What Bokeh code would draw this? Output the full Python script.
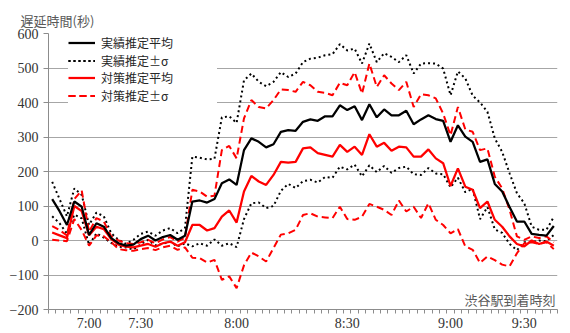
from bokeh.plotting import figure
from bokeh.models import Range1d, FixedTicker, Label, Legend, LegendItem, Title
from bokeh.embed import file_html
from bokeh.resources import INLINE

# --- data ---
tick_index = [5, 12, 25, 40, 54, 64]
tick_labels = ["7:00", "7:30", "8:00", "8:30", "9:00", "9:30"]

actual_mean = [120, 85, 45, 113, 98, 16, 50, 40, 7, -8,
               -15, -12, 4, 14, 0, 10, 16, 2, 14, 113,
               116, 110, 120, 166, 177, 161, 262, 296, 286, 270,
               279, 315, 320, 318, 344, 351, 347, 360, 360, 392,
               378, 389, 349, 395, 357, 380, 363, 363, 376, 337,
               351, 363, 352, 347, 286, 334, 301, 286, 228, 235,
               164, 142, 97, 55, 55, 19, 16, 14, 42]
actual_upper = [170, 120, 70, 151, 132, 45, 81, 70, 21, 2,
                -10, 2, 19, 26, 14, 29, 36, 21, 36, 243,
                240, 235, 237, 357, 360, 341, 464, 484, 460, 447,
                460, 488, 474, 484, 517, 527, 530, 537, 540, 569,
                551, 556, 513, 571, 517, 543, 532, 517, 537, 484,
                513, 514, 513, 498, 421, 490, 470, 420, 400, 373,
                296, 257, 195, 137, 108, 40, 31, 31, 68]
actual_lower = [70, 50, 20, 75, 64, -13, 21, 8, -7, -18,
                -20, -26, -11, 2, -14, -9, -4, -17, -8, -17,
                -8, -15, 3, -15, -8, -19, 62, 108, 110, 94,
                100, 144, 164, 152, 172, 176, 168, 184, 182, 214,
                206, 220, 186, 218, 198, 216, 196, 210, 214, 192,
                190, 210, 194, 192, 154, 182, 140, 150, 62, 97,
                32, 22, -10, -28, -5, -5, 0, -2, 16]
plan_mean = [23, 15, 7, 100, 85, 15, 40, 33, 4, -12,
             -18, -20, -15, -10, -18, -8, -3, -15, -5, 45,
             45, 29, 36, 69, 87, 52, 142, 187, 171, 161,
             190, 228, 226, 228, 267, 270, 253, 248, 243, 277,
             257, 272, 248, 308, 272, 283, 260, 272, 270, 243,
             243, 264, 238, 224, 158, 209, 156, 147, 94, 113,
             60, 40, 12, -10, -17, 0, -10, -3, -15]
plan_upper = [42, 30, 15, 120, 145, 25, 65, 55, 12, 0,
              -8, -10, -5, 2, -8, 3, 10, -3, 8, 147,
              142, 127, 130, 262, 274, 238, 354, 407, 387, 383,
              407, 438, 436, 431, 460, 450, 431, 428, 421, 457,
              450, 488, 426, 513, 445, 479, 455, 436, 460, 387,
              424, 421, 412, 368, 305, 387, 322, 315, 262, 267,
              185, 151, 89, 12, 2, 12, 7, 12, -5]
plan_lower = [2, 0, -2, 62, 30, -15, 15, 12, -5, -25,
              -28, -30, -25, -22, -28, -20, -15, -27, -20, -50,
              -51, -64, -56, -114, -104, -138, -72, -35, -46, -61,
              -22, 17, 21, 31, 74, 79, 69, 67, 65, 98,
              62, 60, 69, 106, 98, 89, 74, 116, 84, 98,
              65, 108, 60, 45, 21, 33, -17, -27, -65, -46,
              -57, -70, -75, -37, -8, -5, -10, -5, -25]

series_names = ["実績推定平均", "実績推定±σ", "対策推定平均", "対策推定±σ"]
y_title = "遅延時間(秒)"
x_title = "渋谷駅到着時刻"

n = len(actual_mean)
x = list(range(n))

p = figure(width=570, height=333, output_backend="svg", toolbar_location=None,
           x_range=Range1d(-0.5, n - 0.5), y_range=Range1d(-200, 600),
           min_border_left=48, min_border_right=13, min_border_top=33,
           min_border_bottom=23)
p.outline_line_color = None
p.background_fill_color = "white"
p.border_fill_color = "white"
p.xgrid.visible = False
p.ygrid.grid_line_color = "#a6a6a6"
p.ygrid.grid_line_width = 1

AX = "#8c8c8c"
p.yaxis.ticker = FixedTicker(ticks=list(range(-200, 601, 100)))
p.yaxis.axis_line_color = AX
p.yaxis.major_tick_line_color = AX
p.yaxis.major_tick_out = 5
p.yaxis.major_tick_in = 0
p.yaxis.minor_tick_line_color = None
p.yaxis.major_label_text_font = "Liberation Serif"
p.yaxis.major_label_text_font_size = "14px"
p.yaxis.major_label_text_color = "#333333"
p.yaxis.major_label_standoff = 5

p.xaxis.ticker = FixedTicker(ticks=tick_index, minor_ticks=[k - 0.5 for k in range(n + 1)])
p.xaxis.major_label_overrides = {i: t for i, t in zip(tick_index, tick_labels)}
p.xaxis.axis_line_color = AX
p.xaxis.major_tick_line_color = None
p.xaxis.major_tick_out = 0
p.xaxis.major_tick_in = 0
p.xaxis.minor_tick_line_color = AX
p.xaxis.minor_tick_out = 4
p.xaxis.minor_tick_in = 0
p.xaxis.major_label_text_font = "Liberation Serif"
p.xaxis.major_label_text_font_size = "14px"
p.xaxis.major_label_text_color = "#333333"
p.xaxis.major_label_standoff = 2

r_au = p.line(x, actual_upper, line_color="black", line_width=2, line_dash="2 3")
r_al = p.line(x, actual_lower, line_color="black", line_width=2, line_dash="2 3")
r_pu = p.line(x, plan_upper, line_color="#ff0000", line_width=2, line_dash="7 4")
r_pl = p.line(x, plan_lower, line_color="#ff0000", line_width=2, line_dash="7 4")
r_pm = p.line(x, plan_mean, line_color="#ff0000", line_width=2.25)
r_am = p.line(x, actual_mean, line_color="black", line_width=2.25)

# one legend per row, so that rows sit as tightly as in the reference
legend_rows = [
    (series_names[0], [r_am], 258),
    (series_names[1], [r_au, r_al], 240.5),
    (series_names[2], [r_pm], 223),
    (series_names[3], [r_pu, r_pl], 205.5),
]
for label, rends, ybot in reversed(legend_rows):
    lg = Legend(items=[LegendItem(label=label, renderers=rends)], location=(20, ybot))
    lg.padding = 0
    lg.margin = 0
    lg.spacing = 0
    lg.glyph_width = 27
    lg.glyph_height = 15
    lg.label_height = 15
    lg.label_width = 116
    lg.label_standoff = 6
    lg.border_line_color = None
    lg.background_fill_color = "white"
    lg.background_fill_alpha = 1
    lg.label_text_font = "Noto Sans CJK JP"
    lg.label_text_font_size = "12px"
    lg.label_text_color = "#262626"
    p.add_layout(lg, "center")

p.add_layout(Title(text=y_title, align="left", offset=-28, standoff=8,
                   text_font="Noto Sans CJK JP", text_font_size="13px",
                   text_font_style="normal", text_color="#595959"), "above")
p.add_layout(Label(x=n - 0.5, x_offset=-2, y=-171, text=x_title, text_align="right",
                   text_baseline="middle", text_font="Noto Sans CJK JP",
                   text_font_size="13px", text_color="#595959"))

open("out.html", "w").write(file_html(p, INLINE))
